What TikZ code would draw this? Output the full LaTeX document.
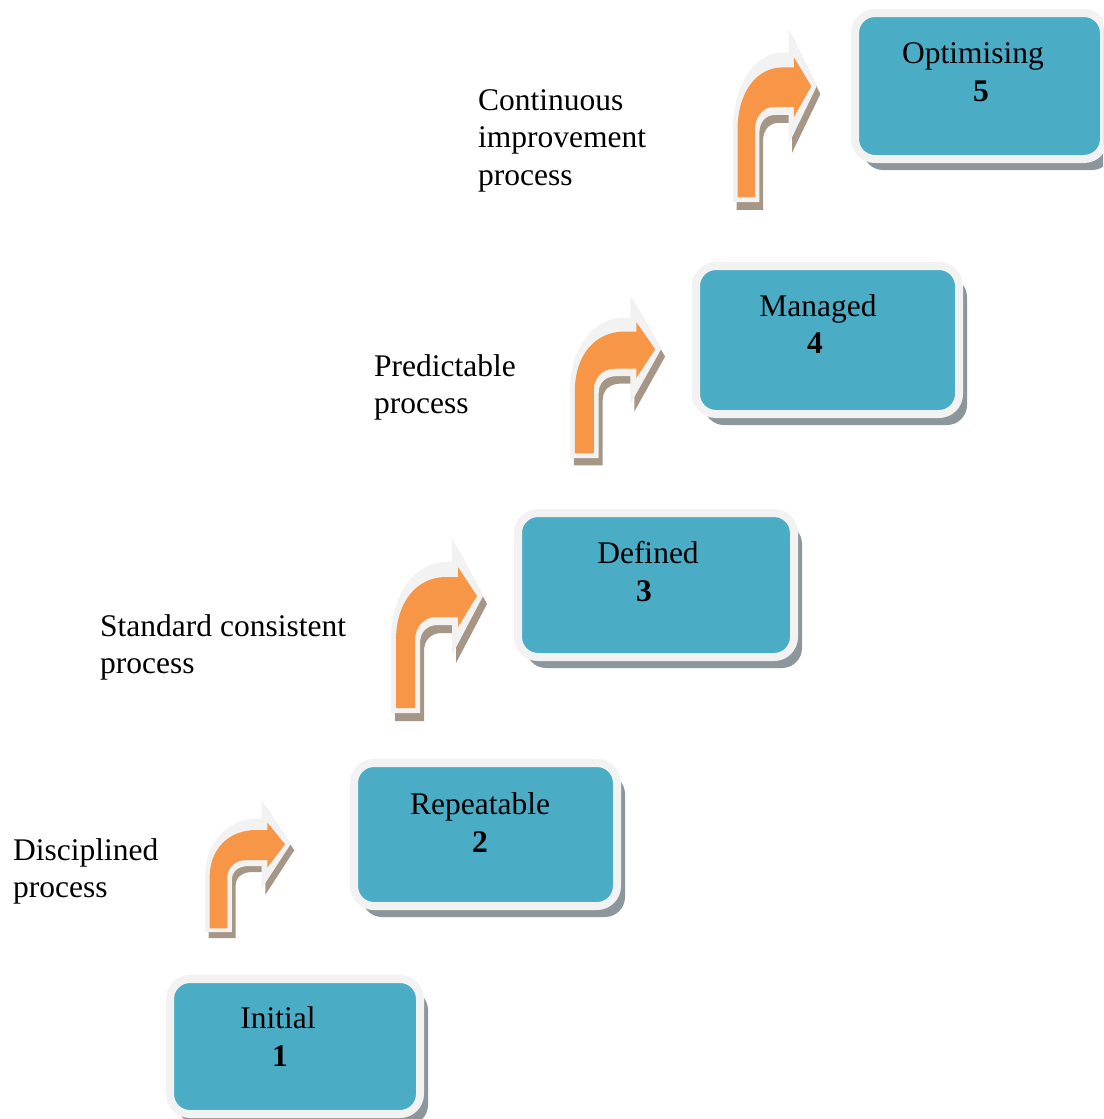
\documentclass[tikz,border=0pt]{standalone}
\usepackage{fontspec}
\setmainfont{Liberation Serif}
\usetikzlibrary{shadows}

\definecolor{stageteal}{HTML}{4BACC6}
\definecolor{rimgray}{HTML}{F2F2F2}
\definecolor{boxshadow}{HTML}{8C979B}
\definecolor{arroworange}{HTML}{F79646}
\definecolor{arrowshade}{HTML}{A69686}

\tikzset{
  stage/.style={rectangle, rounded corners=20pt, fill=stageteal, draw=rimgray,
    line width=8pt, inner sep=0pt, outer sep=0pt,
    general shadow={fill=boxshadow, shadow xshift=8pt, shadow yshift=-11pt}},
  stagetitle/.style={anchor=base, inner sep=0pt, font=\fontsize{31.5}{37.5}\selectfont},
  stagenum/.style={anchor=base, inner sep=0pt, font=\fontsize{31.5}{37.5}\selectfont\bfseries},
  % multi-line notes: the base anchor sits on the last line
  sidenote/.style={anchor=base west, align=left, inner sep=0pt,
    font=\fontsize{31.5}{37.5}\selectfont},
  % bent "turn right" arrow: shadow, light rim, orange body
  bent/.pic={
    \fill[arrowshade, shift={(4,8)}] (0,0) -- (0,-73)
      .. controls (0,-120) and (25,-151) .. (55,-151) -- (61,-151) -- (61,-175)
      -- (92,-117) -- (61,-58) -- (61,-88) -- (47,-88)
      .. controls (35,-88) and (29,-80) .. (29,-70) -- (29,0) -- cycle;
    \fill[rimgray] (0,0) -- (0,-73)
      .. controls (0,-120) and (25,-151) .. (55,-151) -- (61,-151) -- (61,-175)
      -- (92,-117) -- (61,-58) -- (61,-88) -- (47,-88)
      .. controls (35,-88) and (29,-80) .. (29,-70) -- (29,0) -- cycle;
    \fill[arroworange] (5,-5) -- (5,-73)
      .. controls (5,-110) and (25,-136) .. (55,-136) -- (67,-136) -- (67,-146)
      -- (86,-117) -- (67,-86) -- (67,-96) -- (45,-96)
      .. controls (32,-96) and (24,-85) .. (24,-73) -- (24,-5) -- cycle;
  }
}

\begin{document}
\begin{tikzpicture}[x=1pt, y=-1pt]
  \useasboundingbox (0,0) rectangle (1103,1119);
  \clip (0,0) rectangle (1103,1119);

  % stage boxes
  \node[stage, minimum width=250pt, minimum height=135pt] (s1) at (295,1046.5) {};
  \node[stage, minimum width=263pt, minimum height=143pt] (s2) at (485.5,834.5) {};
  \node[stage, minimum width=276pt, minimum height=144pt] (s3) at (656,585) {};
  \node[stage, minimum width=263pt, minimum height=148pt] (s4) at (827.5,340) {};
  \node[stage, minimum width=249pt, minimum height=146pt] (s5) at (979.5,86) {};

  % stage names and levels
  \node[stagetitle] (t1) at (278,1028) {Initial};
  \node[stagenum]   (n1) at (280,1066) {1};
  \node[stagetitle] (t2) at (480,814) {Repeatable};
  \node[stagenum]   (n2) at (480,852) {2};
  \node[stagetitle] (t3) at (648,563) {Defined};
  \node[stagenum]   (n3) at (644,601) {3};
  \node[stagetitle] (t4) at (818,316) {Managed};
  \node[stagenum]   (n4) at (815,353) {4};
  \node[stagetitle] (t5) at (973,63) {Optimising};
  \node[stagenum]   (n5) at (981,101) {5};

  % step arrows
  \pic[xscale=0.93, yscale=0.75] (a1) at (205,932) {bent};
  \pic[xscale=1.00, yscale=1.00] (a2) at (391,713) {bent};
  \pic[xscale=0.99, yscale=0.93] (a3) at (570,458) {bent};
  \pic[xscale=0.91, yscale=0.99] (a4) at (733,202) {bent};

  % process descriptions
  \node[sidenote] (d1) at (13,897.5) {Disciplined\\process};
  \node[sidenote] (d2) at (100,673.5) {Standard consistent\\process};
  \node[sidenote] (d3) at (374,413.5) {Predictable\\process};
  \node[sidenote] (d4) at (478,185) {Continuous\\improvement\\process};
\end{tikzpicture}
\end{document}
